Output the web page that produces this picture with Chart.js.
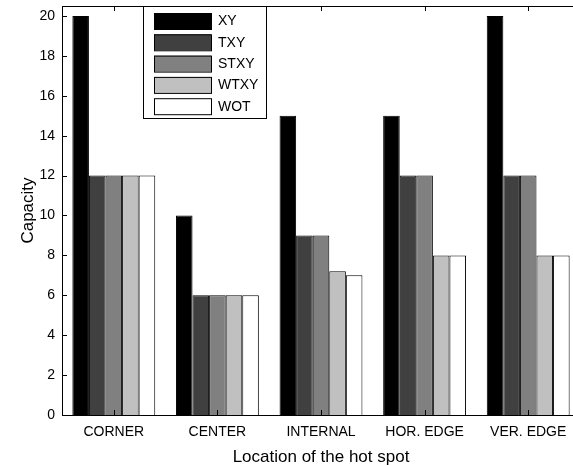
<!DOCTYPE html>
<html>
<head>
<meta charset="utf-8">
<script src="https://cdn.jsdelivr.net/npm/chart.js@4.4.0/dist/chart.umd.min.js"></script>
<style>
  html, body { margin: 0; padding: 0; background: #fff; overflow: hidden; }
  #wrap { width: 600px; height: 466px; }
</style>
</head>
<body>
<div id="wrap"><canvas id="myChart" width="600" height="466"></canvas></div>
<script>
const locations = ["CORNER", "CENTER", "INTERNAL", "HOR. EDGE", "VER. EDGE"];
const seriesNames = ["XY", "TXY", "STXY", "WTXY", "WOT"];
const xy = [20, 10, 15, 15, 20];
const txy = [12, 6, 9, 12, 12];
const stxy = [12, 6, 9, 12, 12];
const wtxy = [12, 6, 7.2, 8, 8];
const wot = [12, 6, 7, 8, 8];
const yTicks = [0, 2, 4, 6, 8, 10, 12, 14, 16, 18, 20];
const fills = ["#000000", "#404040", "#808080", "#c0c0c0", "#ffffff"];

const font = "'Liberation Sans', Arial, sans-serif";

// box legend drawn inside the plot, like the original figure
const boxLegend = {
    id: 'boxLegend',
    afterDraw(chart) {
        const ctx = chart.ctx;
        const a = chart.chartArea;
        const x0 = a.left + 81;
        const y0 = a.top;
        ctx.save();
        ctx.fillStyle = "#fff";
        ctx.fillRect(x0, y0, 123, 112);
        ctx.strokeStyle = "#000";
        ctx.lineWidth = 1;
        ctx.strokeRect(x0 + 0.5, y0 + 0.5, 123, 112);
        ctx.font = "14px " + font;
        ctx.textBaseline = "middle";
        chart.data.datasets.forEach((ds, i) => {
            const ry = y0 + 7 + i * 21.3;
            ctx.fillStyle = ds.backgroundColor;
            ctx.fillRect(x0 + 11, ry, 57, 16);
            ctx.strokeStyle = "#000";
            ctx.strokeRect(x0 + 11.5, ry + 0.5, 57, 16);
            ctx.fillStyle = "#000";
            ctx.fillText(ds.label, x0 + 75, ry + 8.5);
        });
        ctx.restore();
    }
};

// inward tick marks and the frame
const frame = {
    id: 'frame',
    afterDatasetsDraw(chart) {
        const ctx = chart.ctx;
        const a = chart.chartArea;
        const ys = chart.scales.y;
        const xs = chart.scales.x;
        ctx.save();
        ctx.strokeStyle = "#000";
        ctx.lineWidth = 1;
        ctx.beginPath();
        yTicks.forEach(v => {
            const py = Math.round(ys.getPixelForValue(v)) + 0.5;
            ctx.moveTo(a.left, py);
            ctx.lineTo(a.left + 5, py);
        });
        locations.forEach((c, i) => {
            const px = Math.round(xs.getPixelForValue(i)) + 0.5;
            ctx.moveTo(px, a.bottom);
            ctx.lineTo(px, a.bottom - 5);
            ctx.moveTo(px, a.top);
            ctx.lineTo(px, a.top + 5);
        });
        ctx.stroke();
        ctx.strokeRect(Math.round(a.left) + 0.5, Math.round(a.top) + 0.5,
            Math.round(a.right - a.left), Math.round(a.bottom - a.top));
        ctx.restore();
    }
};

const values = [xy, txy, stxy, wtxy, wot];

new Chart(document.getElementById('myChart'), {
    type: "bar",
    data: {
        labels: locations,
        datasets: seriesNames.map((name, i) => ({
            label: name,
            data: values[i],
            backgroundColor: fills[i],
            borderColor: "#000",
            borderWidth: 1,
        })),
    },
    options: {
        responsive: false,
        animation: false,
        events: [],
        layout: { padding: { top: 6, right: 20, left: 0, bottom: 0 } },
        datasets: {
            bar: { categoryPercentage: 0.8, barPercentage: 1 }
        },
        plugins: {
            legend: { display: false },
            tooltip: { enabled: false },
        },
        scales: {
            x: {
                grid: { display: false, drawTicks: false },
                border: { display: false },
                ticks: { color: "#000", font: { family: font, size: 14 }, padding: 9 },
                title: {
                    display: true,
                    text: "Location of the hot spot",
                    color: "#000",
                    font: { family: font, size: 17, lineHeight: 1 },
                    padding: { top: 0, bottom: 0 },
                },
                afterFit(scale) {
                    scale.height = 51;
                    scale.paddingLeft = 0;
                    scale.paddingRight = 0;
                },
            },
            y: {
                min: 0,
                max: 20.5,
                afterBuildTicks(scale) { scale.ticks = yTicks.map(v => ({ value: v })); },
                grid: { display: false, drawTicks: false },
                border: { display: false },
                ticks: { color: "#000", font: { family: font, size: 14 }, padding: 7 },
                title: {
                    display: true,
                    text: "Capacity",
                    color: "#000",
                    font: { family: font, size: 17, lineHeight: 1 },
                    padding: { top: 20, bottom: 0 },
                },
                afterFit(scale) {
                    scale.width = 62;
                    scale.paddingTop = 0;
                    scale.paddingBottom = 0;
                },
            },
        },
    },
    plugins: [frame, boxLegend],
});
</script>
</body>
</html>
